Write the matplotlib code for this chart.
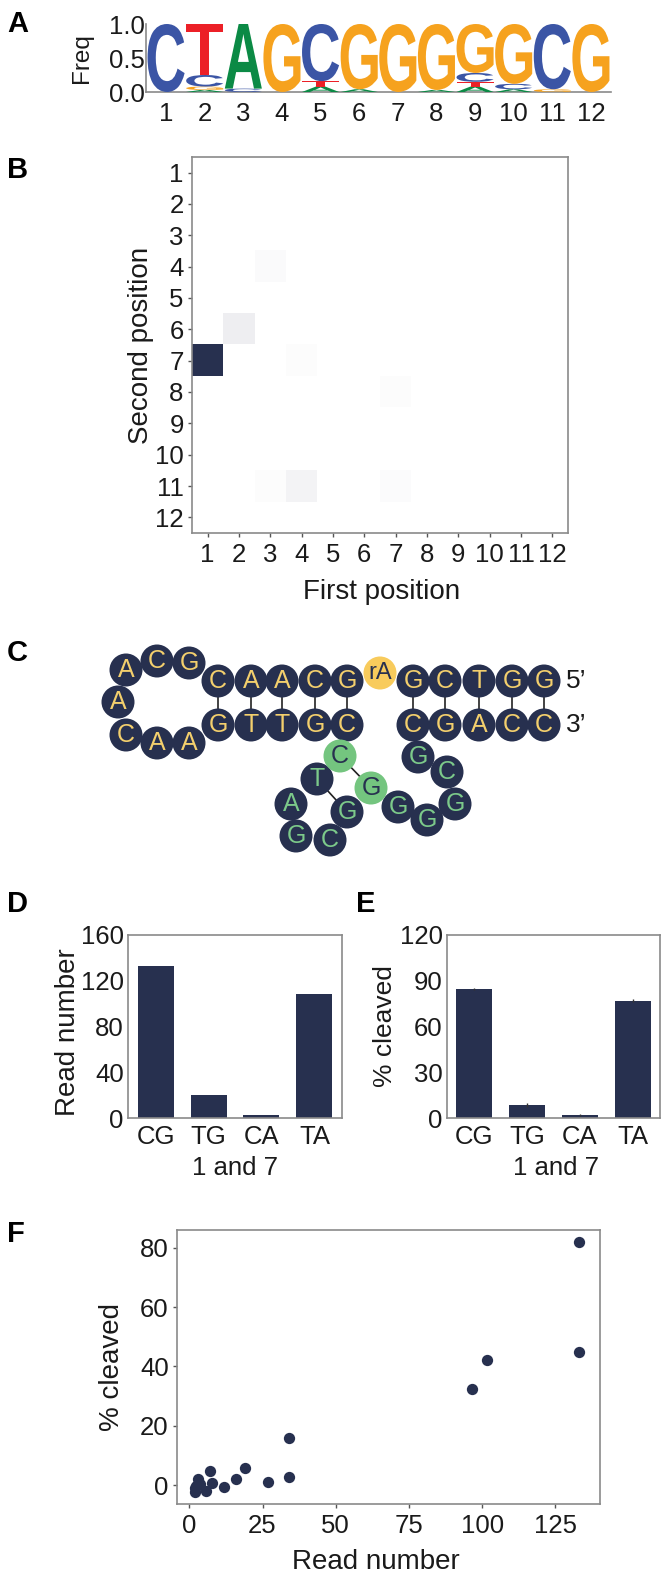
import numpy as np
import matplotlib
matplotlib.use("Agg")
import matplotlib.pyplot as plt
from matplotlib.colors import LinearSegmentedColormap
from matplotlib.patches import Circle, PathPatch
from matplotlib.textpath import TextPath
from matplotlib.font_manager import FontProperties
from matplotlib.transforms import Affine2D

plt.rcParams['font.family'] = ['Liberation Sans', 'DejaVu Sans']

W, H = 663, 1575
NAVY = '#27304f'
SPINE = '#8a8a8a'
TXT = '#1a1a1a'
FS = 18.5
LS = 20

# Panel A: stacked letter frequencies, bottom to top, per position
positions = list(range(1, 13))
logo_stacks = [
    [('C', 1.00)],
    [('A', 0.03), ('G', 0.05), ('C', 0.17), ('T', 0.75)],
    [('C', 0.05), ('A', 0.95)],
    [('G', 1.00)],
    [('A', 0.08), ('T', 0.08), ('C', 0.84)],
    [('A', 0.04), ('G', 0.96)],
    [('G', 1.00)],
    [('A', 0.03), ('G', 0.97)],
    [('A', 0.08), ('T', 0.07), ('C', 0.13), ('G', 0.72)],
    [('A', 0.04), ('C', 0.08), ('G', 0.88)],
    [('G', 0.04), ('C', 0.96)],
    [('G', 1.00)],
]
logo_colors = {'A': '#0b8a45', 'C': '#3b55a5', 'G': '#f6a21e', 'T': '#ec2027'}

# Panel B: (first position, second position, value)
heat_cells = [(1, 7, 1.0), (2, 6, 0.08), (3, 4, 0.022), (4, 7, 0.012),
              (7, 8, 0.014), (3, 11, 0.012), (4, 11, 0.055), (7, 11, 0.016)]

# Panel C: hairpin nucleotides, (letter, x px, y px)
navy_yellow = [('A', 126, 670), ('C', 157, 661), ('G', 189, 663),
               ('A', 118, 702), ('C', 126, 735), ('A', 157, 743), ('A', 189, 743),
               ('C', 218, 681), ('A', 251, 681), ('A', 282, 681), ('C', 315, 681), ('G', 347, 681),
               ('G', 413, 681), ('C', 445, 681), ('T', 479, 681), ('G', 512, 681), ('G', 544, 681),
               ('G', 218, 725), ('T', 251, 725), ('T', 282, 725), ('G', 315, 725), ('C', 347, 725),
               ('C', 413, 725), ('G', 445, 725), ('A', 479, 725), ('C', 512, 725), ('C', 544, 725)]
navy_green = [('T', 317, 779), ('A', 291, 804), ('G', 296, 836), ('C', 330, 840),
              ('G', 347, 812), ('G', 398, 807), ('G', 427, 820), ('G', 455, 804),
              ('C', 447, 772), ('G', 418, 757)]
green_navy = [('C', 340, 756), ('G', 371, 788)]
pair_columns = [218, 251, 282, 315, 347, 413, 445, 479, 512, 544]

# Panels D and E
pair_labels = ['CG', 'TG', 'CA', 'TA']
read_number = [133, 20, 3, 108]
pct_cleaved = [84.5, 8.5, 2, 77]
pct_err = [0.8, 1.5, 0.8, 1.2]

# Panel F
scatter_reads = [133, 133, 101.5, 96.5, 33.9, 33.9, 26.8, 18.9, 15.9, 11.8, 6.9, 7.8, 5.8, 2.8, 3.7, 1.8, 1.8, 2.2]
scatter_pct = [82, 45, 42, 32.5, 15.8, 2.8, 1.0, 5.6, 2.1, -0.8, 4.6, 0.6, -1.9, 1.9, 0.3, -0.9, -2.2, -0.3]

fig = plt.figure(figsize=(W / 100, H / 100), dpi=100, facecolor='white')


def ax_px(l, t, r, b):
    return fig.add_axes([l / W, 1 - b / H, (r - l) / W, (b - t) / H])


def style(ax, length=3):
    for s in ax.spines.values():
        s.set_color(SPINE)
        s.set_linewidth(1.2)
    ax.tick_params(labelsize=FS, colors=TXT, length=length, width=1, color='#555555', pad=3)


bg = fig.add_axes([0, 0, 1, 1], zorder=5)
bg.set_xlim(0, W)
bg.set_ylim(H, 0)
bg.axis('off')
bg.patch.set_alpha(0)

# Panel letters
for letter, x, y in [('A', 7, 24), ('B', 7, 170), ('C', 7, 653),
                     ('D', 7, 904), ('E', 356, 904), ('F', 7, 1234)]:
    bg.text(x, y, letter, fontsize=21, fontweight='bold', color='black', ha='left', va='center')

# --- A
axA = ax_px(146, 24, 611, 92)
style(axA, length=0)
axA.spines['top'].set_visible(False)
axA.spines['right'].set_visible(False)
fp = FontProperties(family='Liberation Sans', weight='bold')
for pos, stack in zip(positions, logo_stacks):
    base = 0.0
    for letter, h in stack:
        tp = TextPath((0, 0), letter, size=1, prop=fp)
        bb = tp.get_extents()
        tr = (Affine2D().translate(-bb.x0, -bb.y0)
              .scale(0.96 / bb.width, h / bb.height)
              .translate(pos - 0.48, base))
        axA.add_patch(PathPatch(tr.transform_path(tp), fc=logo_colors[letter], ec='none',
                                transform=axA.transData, zorder=3))
        base += h
axA.set_xlim(0.48, 12.52)
axA.set_ylim(0, 1)
axA.set_xticks(positions)
axA.set_yticks([0, 0.5, 1.0])
axA.set_yticklabels(['0.0', '0.5', '1.0'])
axA.tick_params(axis='x', pad=7)
axA.tick_params(axis='y', pad=1)
axA.set_ylabel('Freq', fontsize=17.5, color=TXT, labelpad=11)

# --- B
axB = ax_px(192, 157, 568, 533)
style(axB)
grid = np.zeros((12, 12))
for first, second, val in heat_cells:
    grid[second - 1, first - 1] = val
cmap = LinearSegmentedColormap.from_list('wn', ['#ffffff', NAVY])
axB.imshow(grid, cmap=cmap, vmin=0, vmax=1, aspect='auto', extent=(0.5, 12.5, 12.5, 0.5),
           interpolation='nearest')
axB.set_xticks(positions)
axB.set_yticks(positions)
axB.tick_params(axis='x', pad=4)
axB.set_xlabel('First position', fontsize=LS, color=TXT, labelpad=9, x=0.505)
axB.set_ylabel('Second position', fontsize=LS, color=TXT, labelpad=1)

# --- C
R = 16.5
for x in pair_columns:
    bg.plot([x, x], [681, 725], color='#222222', lw=1.2, zorder=1)
bg.plot([340, 371], [756, 788], color='#222222', lw=1.2, zorder=1)
bg.plot([317, 347], [779, 812], color='#222222', lw=1.2, zorder=1)


def nuc(letter, x, y, fc, tc, fs=18):
    bg.add_patch(Circle((x, y), R, fc=fc, ec='none', zorder=2))
    bg.text(x, y, letter, color=tc, fontsize=fs, ha='center', va='center', zorder=3)


for l, x, y in navy_yellow:
    nuc(l, x, y, NAVY, '#f3cf6d')
for l, x, y in navy_green:
    nuc(l, x, y, NAVY, '#7cc98a')
for l, x, y in green_navy:
    nuc(l, x, y, '#74c57f', NAVY)
nuc('rA', 380, 673, '#f8cb5c', NAVY, fs=17)
bg.text(566, 681, "5’", fontsize=19, color=TXT, ha='left', va='center')
bg.text(566, 725, "3’", fontsize=19, color=TXT, ha='left', va='center')

# --- D
axD = ax_px(128, 935, 342, 1118)
style(axD, length=0)
axD.tick_params(axis='x', pad=5)
axD.bar(range(4), read_number, width=0.68, color=NAVY)
axD.set_xlim(-0.52, 3.52)
axD.set_ylim(0, 160)
axD.set_yticks([0, 40, 80, 120, 160])
axD.set_xticks(range(4))
axD.set_xticklabels(pair_labels)
axD.set_xlabel('1 and 7', fontsize=FS, color=TXT, labelpad=5)
axD.set_ylabel('Read number', fontsize=LS, color=TXT, labelpad=0, y=0.47)

# --- E
axE = ax_px(447, 935, 660, 1118)
style(axE, length=0)
axE.tick_params(axis='x', pad=5)
axE.bar(range(4), pct_cleaved, width=0.68, color=NAVY, yerr=pct_err,
        error_kw=dict(ecolor='#333333', elinewidth=1, capsize=0))
axE.set_xlim(-0.52, 3.52)
axE.set_ylim(0, 120)
axE.set_yticks([0, 30, 60, 90, 120])
axE.set_xticks(range(4))
axE.set_xticklabels(pair_labels)
axE.set_xlabel('1 and 7', fontsize=FS, color=TXT, labelpad=5, x=0.51)
axE.set_ylabel('% cleaved', fontsize=19, color=TXT, labelpad=2)

# --- F
axF = ax_px(177, 1230, 600, 1504)
style(axF)
axF.tick_params(axis='x', pad=4)
axF.scatter(scatter_reads, scatter_pct, s=66, color=NAVY, linewidths=0, zorder=3)
axF.set_xlim(-4.2, 140.2)
axF.set_ylim(-6.4, 86)
axF.set_xticks([0, 25, 50, 75, 100, 125])
axF.set_yticks([0, 20, 40, 60, 80])
axF.set_xlabel('Read number', fontsize=LS, color=TXT, labelpad=8, x=0.47)
axF.set_ylabel('% cleaved', fontsize=LS, color=TXT, labelpad=11)

fig.savefig('out.png', dpi=100, facecolor='white')
